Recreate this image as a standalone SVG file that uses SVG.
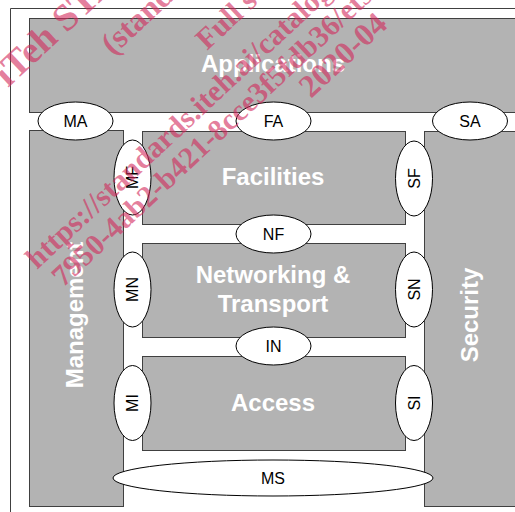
<svg xmlns="http://www.w3.org/2000/svg" width="515" height="512" viewBox="0 0 515 512">
  <style>
    .box { fill: #b3b3b3; stroke: #404040; stroke-width: 1; }
    .port { fill: #ffffff; stroke: #000000; stroke-width: 1; }
    .big { font-family: "Liberation Sans", Arial, sans-serif; font-weight: bold; font-size: 24px; fill: #ffffff; text-anchor: middle; }
    .lbl { font-family: "Liberation Sans", Arial, sans-serif; font-size: 16px; fill: #000000; text-anchor: middle; }
    .wm { font-family: "Liberation Serif", "Times New Roman", serif; font-weight: bold; fill: #d2285a; fill-opacity: 0.6; }
  </style>
  <rect x="0" y="0" width="515" height="512" fill="#ffffff"/>
  <g id="frame">
    <path d="M10.5 512 V8.5 H515" fill="none" stroke="#404040" stroke-width="1"/>
  </g>
  <g id="applications">
    <rect class="box" x="29.5" y="18.5" width="500" height="94"/>
    <text class="big" x="273" y="72">Applications</text>
  </g>
  <g id="management">
    <rect class="box" x="29.5" y="130.5" width="94" height="376"/>
    <text class="big" transform="translate(83 315) rotate(-90)" x="0" y="0">Management</text>
  </g>
  <g id="facilities">
    <rect class="box" x="142.5" y="131.5" width="263" height="93"/>
    <text class="big" x="273" y="185">Facilities</text>
  </g>
  <g id="networking">
    <rect class="box" x="142.5" y="243.5" width="263" height="94"/>
    <text class="big" x="273" y="283">Networking &amp;</text>
    <text class="big" x="273" y="312">Transport</text>
  </g>
  <g id="access">
    <rect class="box" x="142.5" y="356.5" width="263" height="94"/>
    <text class="big" x="273" y="411">Access</text>
  </g>
  <g id="security">
    <rect class="box" x="424.5" y="131.5" width="100" height="375"/>
    <text class="big" transform="translate(478 315) rotate(-90)" x="0" y="0">Security</text>
  </g>
  <g id="connectors">
    <g id="MA"><ellipse class="port" cx="75.5" cy="121" rx="37.5" ry="19"/><text class="lbl" x="75.5" y="126.7">MA</text></g>
    <g id="FA"><ellipse class="port" cx="273.5" cy="121" rx="37.5" ry="19"/><text class="lbl" x="273.5" y="126.7">FA</text></g>
    <g id="SA"><ellipse class="port" cx="470" cy="121" rx="37.5" ry="19"/><text class="lbl" x="470" y="126.7">SA</text></g>
    <g id="MF"><ellipse class="port" cx="132.5" cy="177.5" rx="18.5" ry="37.5"/><text class="lbl" transform="translate(138.2 177.5) rotate(-90)" x="0" y="0">MF</text></g>
    <g id="SF"><ellipse class="port" cx="414" cy="178.5" rx="18.5" ry="37.5"/><text class="lbl" transform="translate(419.7 178.5) rotate(-90)" x="0" y="0">SF</text></g>
    <g id="NF"><ellipse class="port" cx="273.5" cy="234" rx="37.5" ry="19"/><text class="lbl" x="273.5" y="239.7">NF</text></g>
    <g id="MN"><ellipse class="port" cx="132.5" cy="289.5" rx="18.5" ry="37.5"/><text class="lbl" transform="translate(138.2 289.5) rotate(-90)" x="0" y="0">MN</text></g>
    <g id="SN"><ellipse class="port" cx="414" cy="289.5" rx="18.5" ry="37.5"/><text class="lbl" transform="translate(419.7 289.5) rotate(-90)" x="0" y="0">SN</text></g>
    <g id="IN"><ellipse class="port" cx="273.5" cy="346" rx="37.5" ry="19"/><text class="lbl" x="273.5" y="351.7">IN</text></g>
    <g id="MI"><ellipse class="port" cx="132.5" cy="403" rx="18.5" ry="37.5"/><text class="lbl" transform="translate(138.2 403) rotate(-90)" x="0" y="0">MI</text></g>
    <g id="SI"><ellipse class="port" cx="414" cy="403" rx="18.5" ry="37.5"/><text class="lbl" transform="translate(419.7 403) rotate(-90)" x="0" y="0">SI</text></g>
    <g id="MS"><ellipse class="port" cx="273" cy="478" rx="160" ry="18"/><text class="lbl" x="273" y="483.7">MS</text></g>
  </g>
  <g id="watermark">
    <text class="wm" font-size="38" transform="translate(8 88) rotate(-43)">iTeh STANDARD PREVIEW</text>
    <text class="wm" font-size="32" transform="translate(113 56) rotate(-43)">(standards.iteh.ai)</text>
    <text class="wm" font-size="30" transform="translate(207 51) rotate(-43)">Full standard:</text>
    <text class="wm" font-size="30" transform="translate(37 270) rotate(-43)">https://standards.iteh.ai/catalog/standards/sist/</text>
    <text class="wm" font-size="30" transform="translate(63 288) rotate(-43)">7950-4ab2-b421-8cce3f5fdb36/etsi</text>
    <text class="wm" font-size="32" transform="translate(311 99) rotate(-43)">2020-04</text>
  </g>
</svg>
